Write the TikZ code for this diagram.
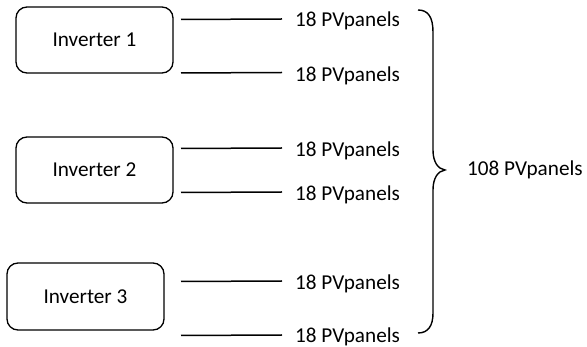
\documentclass[tikz,border=0pt]{standalone}
\usepackage{fontspec}
\setmainfont{Carlito}
\begin{document}
\begin{tikzpicture}[x=1pt,y=-1pt,
  font=\fontsize{21.2}{25}\selectfont,
  inv/.style={draw, line width=1.3pt, rounded corners=11pt, minimum width=157pt, minimum height=66pt, inner sep=0pt},
  lab/.style={anchor=base west, inner sep=0pt},
  wire/.style={draw, line width=1.5pt},
  brace/.style={draw, line width=1.4pt}]
\useasboundingbox (0,0) rectangle (587,347);
% inverters
\node[inv] (i1) at (94.5,40) {Inverter 1};
\node[inv] (i2) at (94.5,170) {Inverter 2};
\node[inv, minimum height=67pt] (i3) at (85.5,296.5) {Inverter 3};
% labels
\node[lab] (p1) at (295,26.2) {18 PVpanels};
\node[lab] (p2) at (295,81.2) {18 PVpanels};
\node[lab] (p3) at (295,156.2) {18 PVpanels};
\node[lab] (p4) at (295,200.7) {18 PVpanels};
\node[lab] (p5) at (295,289.5) {18 PVpanels};
\node[lab] (p6) at (295,342.2) {18 PVpanels};
\node[lab] (tot) at (467,175.5) {108 PVpanels};
% wires
\coordinate (a1) at (181,19.5); \coordinate (b1) at (282,19);
\coordinate (a2) at (181,73);   \coordinate (b2) at (282,72.5);
\coordinate (a3) at (181,148.5);\coordinate (b3) at (282,148);
\coordinate (a4) at (181,192.5);\coordinate (b4) at (282,192);
\coordinate (a5) at (181,281.5);\coordinate (b5) at (282,281);
\coordinate (a6) at (181,335.5);\coordinate (b6) at (282,335);
\foreach \k in {1,...,6} {\draw[wire] (a\k) -- (b\k);}
% brace
\draw[brace] (418,10) .. controls (428,10) and (433,17) .. (433,32)
  -- (433,150) .. controls (433,162) and (438,169) .. (445,170)
  .. controls (438,171) and (433,178) .. (433,190)
  -- (433,313) .. controls (433,326) and (428,333) .. (418,333);
\end{tikzpicture}
\end{document}
